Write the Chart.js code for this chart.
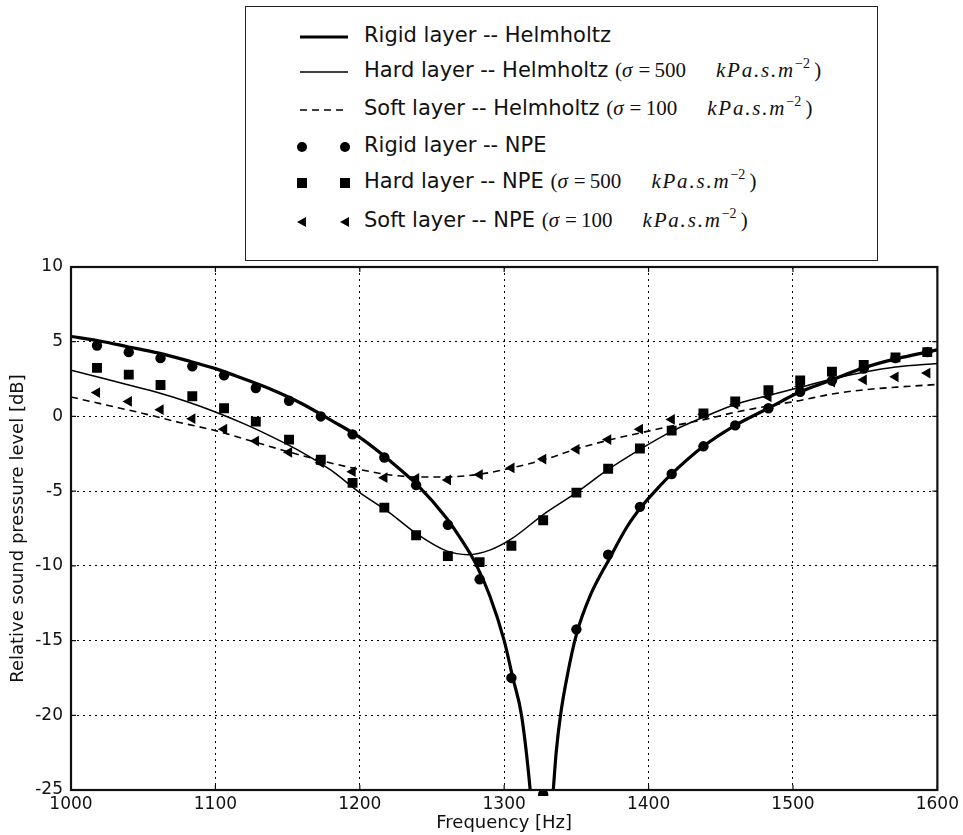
<!DOCTYPE html>
<html>
<head>
<meta charset="utf-8">
<script src="https://cdn.jsdelivr.net/npm/chart.js@4.4.1/dist/chart.umd.min.js"></script>
<style>
  body { margin: 0; background: #fff; }
  #wrap { position: relative; width: 963px; height: 835px; }
  #plot { position: absolute; left: 0; top: 0; }
  #legend {
    position: absolute; left: 245px; top: 6px; width: 633px; height: 255px;
    border: 1px solid #222; background: #fff; box-sizing: border-box;
    font-family: "DejaVu Sans", sans-serif; font-size: 21px; color: #111;
  }
  .row { position: absolute; left: 0; height: 30px; display: flex; align-items: center; white-space: nowrap; }
  .row svg { position: absolute; left: 50px; top: 0; }
  .lab { position: absolute; left: 118px; top: 1px; }
  .m { font-family: "Liberation Serif", "DejaVu Serif", serif; font-size: 21px; }
  .m i { letter-spacing: 1.8px; }
  .m sup { font-size: 14px; vertical-align: 9px; line-height: 0; font-style: normal; }
</style>
</head>
<body>
<div id="wrap">
  <canvas id="plot" width="963" height="835"></canvas>
  <div id="legend"></div>
</div>
<script>
// frequencies of the NPE points [Hz]
const freqNPE = [1018, 1040, 1062, 1084, 1106, 1128, 1151, 1173, 1195, 1217, 1239, 1261, 1283, 1305,
  1327, 1350, 1372, 1394, 1416, 1438, 1460, 1483, 1505, 1527, 1549, 1571, 1593];
const rigidNPE = [4.75, 4.3, 3.9, 3.35, 2.75, 1.9, 1.05, 0.0, -1.2, -2.75, -4.6, -7.25, -10.9, -17.5,
  -25.3, -14.25, -9.25, -6.05, -3.85, -2.0, -0.6, 0.55, 1.65, 2.4, 3.2, 3.9, 4.3];
const hardNPE = [3.25, 2.8, 2.1, 1.35, 0.55, -0.35, -1.55, -2.9, -4.45, -6.1, -7.95, -9.35, -9.75, -8.65,
  -6.95, -5.1, -3.5, -2.15, -0.95, 0.2, 1.0, 1.75, 2.4, 3.0, 3.45, 3.95, 4.3];
const softNPE = [1.6, 1.0, 0.45, -0.15, -0.85, -1.65, -2.4, -3.1, -3.7, -4.1, -4.15, -4.25, -3.9, -3.45,
  -2.85, -2.2, -1.55, -0.85, -0.2, 0.15, 0.8, 1.3, 2.0, 2.3, 2.45, 2.65, 2.9];

// Helmholtz curves
const freqRigidHelm = [1000, 1020, 1040, 1060, 1080, 1100, 1120, 1140, 1160, 1180, 1200, 1220, 1240, 1260,
  1270, 1280, 1290, 1300, 1306, 1312, 1318, 1322, 1326, 1330, 1334, 1336, 1339, 1344, 1350, 1360, 1373,
  1385, 1395, 1405, 1416, 1438, 1460, 1483, 1505, 1527, 1549, 1571, 1600];
const rigidHelm = [5.35, 5.05, 4.65, 4.25, 3.75, 3.2, 2.5, 1.75, 0.85, -0.25, -1.4, -2.9, -4.6, -6.8,
  -8.2, -9.8, -12.0, -15.0, -17.5, -20.0, -25.0, -30.0, -35.0, -30.0, -25.0, -22.5, -20.0, -17.2, -14.6, -11.9, -9.5,
  -7.4, -6.05, -4.95, -3.85, -2.0, -0.6, 0.55, 1.65, 2.45, 3.25, 3.85, 4.45];
const freqHardHelm = [1000, 1020, 1040, 1060, 1080, 1100, 1120, 1140, 1160, 1180, 1200, 1220, 1240, 1260,
  1275, 1290, 1305, 1328, 1350, 1372, 1395, 1416, 1438, 1460, 1483, 1505, 1527, 1549, 1571, 1600];
const hardHelm = [3.1, 2.6, 2.1, 1.6, 1.0, 0.3, -0.5, -1.4, -2.4, -3.6, -5.1, -6.4, -7.9, -9.0,
  -9.25, -8.95, -8.2, -6.5, -5.1, -3.55, -2.15, -1.0, -0.05, 0.8, 1.4, 1.95, 2.5, 2.95, 3.3, 3.55];
const freqSoftHelm = [1000, 1025, 1050, 1075, 1100, 1125, 1150, 1175, 1200, 1220, 1240, 1260, 1284, 1305,
  1329, 1351, 1374, 1399, 1416, 1439, 1461, 1483, 1505, 1527, 1549, 1572, 1600];
const softHelm = [1.3, 0.75, 0.2, -0.4, -0.95, -1.65, -2.35, -3.0, -3.55, -3.9, -4.05, -4.05, -3.85, -3.45,
  -2.85, -2.15, -1.55, -1.0, -0.65, -0.2, 0.3, 0.7, 1.07, 1.5, 1.78, 1.96, 2.14];

const xTicks = [1000, 1100, 1200, 1300, 1400, 1500, 1600];
const yTicks = [10, 5, 0, -5, -10, -15, -20, -25];

const legendLabels = [
  "Rigid layer -- Helmholtz",
  "Hard layer -- Helmholtz",
  "Soft layer -- Helmholtz",
  "Rigid layer -- NPE",
  "Hard layer -- NPE",
  "Soft layer -- NPE"
];
const legendSigma = [null, 500, 100, null, 500, 100];

function pts(xs, ys) {
  return xs.map((x, i) => ({ x: x, y: ys[i] }));
}

const lineBase = { pointRadius: 0, borderColor: "#000", backgroundColor: "#000", showLine: true,
  cubicInterpolationMode: "monotone", fill: false };
const markBase = { showLine: false, borderColor: "#000", backgroundColor: "#000", borderWidth: 0, clip: 6 };

const datasets = [
  Object.assign({ label: legendLabels[0], data: pts(freqRigidHelm, rigidHelm), borderWidth: 3.2 }, lineBase),
  Object.assign({ label: legendLabels[1], data: pts(freqHardHelm, hardHelm), borderWidth: 1.5 }, lineBase),
  Object.assign({ label: legendLabels[2], data: pts(freqSoftHelm, softHelm), borderWidth: 1.6, borderDash: [7, 5] }, lineBase),
  Object.assign({ label: legendLabels[3], data: pts(freqNPE, rigidNPE), pointStyle: "circle", pointRadius: 5.2 }, markBase),
  Object.assign({ label: legendLabels[4], data: pts(freqNPE, hardNPE), pointStyle: "rect", pointRadius: 7 }, markBase),
  Object.assign({ label: legendLabels[5], data: pts(freqNPE, softNPE), pointStyle: "triangle", pointRadius: 6.2, rotation: -90 }, markBase)
];

// frame round the plot plus inward ticks like matplotlib
const framePlugin = {
  id: "frame",
  afterDatasetsDraw(chart) {
    const { ctx, chartArea: a, scales } = chart;
    ctx.save();
    ctx.strokeStyle = "#111";
    ctx.lineWidth = 1.2;
    ctx.setLineDash([]);
    ctx.beginPath();
    xTicks.forEach(v => {
      const px = scales.x.getPixelForValue(v);
      ctx.moveTo(px, a.bottom); ctx.lineTo(px, a.bottom - 5);
      ctx.moveTo(px, a.top); ctx.lineTo(px, a.top + 5);
    });
    yTicks.forEach(v => {
      const py = scales.y.getPixelForValue(v);
      ctx.moveTo(a.left, py); ctx.lineTo(a.left + 5, py);
      ctx.moveTo(a.right, py); ctx.lineTo(a.right - 5, py);
    });
    ctx.stroke();
    ctx.lineWidth = 2.2;
    ctx.strokeRect(a.left, a.top, a.right - a.left, a.bottom - a.top);
    ctx.restore();
  }
};

const gridOpts = { color: "#000", lineWidth: 1, drawTicks: false, tickLength: 0 };
const tickFont = { family: "DejaVu Sans", size: 17 };
const titleFont = { family: "DejaVu Sans", size: 18 };

new Chart(document.getElementById("plot").getContext("2d"), {
  type: "scatter",
  data: { datasets: datasets },
  options: {
    responsive: false,
    animation: false,
    layout: { padding: { left: 0, top: 267, right: 23, bottom: 0 } },
    plugins: { legend: { display: false }, tooltip: { enabled: false } },
    scales: {
      x: {
        type: "linear", min: 1000, max: 1600,
        afterBuildTicks: s => { s.ticks = xTicks.map(v => ({ value: v })); },
        afterFit: s => { s.height = 45; },
        grid: gridOpts,
        border: { display: false, dash: [2, 4] },
        ticks: { color: "#111", font: tickFont, padding: 4, maxRotation: 0, callback: v => String(v) },
        title: { display: true, text: "Frequency [Hz]", color: "#111", font: titleFont, padding: { top: 0, bottom: 1 } }
      },
      y: {
        type: "linear", min: -25, max: 10,
        afterBuildTicks: s => { s.ticks = yTicks.map(v => ({ value: v })); },
        afterFit: s => { s.width = 71; },
        grid: gridOpts,
        border: { display: false, dash: [2, 4] },
        ticks: { color: "#111", font: tickFont, padding: 8, callback: v => String(v) },
        title: { display: true, text: "Relative sound pressure level [dB]", color: "#111", font: titleFont, padding: { top: 8, bottom: 0 } }
      }
    }
  },
  plugins: [framePlugin]
});

// legend box drawn as html
const rowCenters = [30, 65, 103, 140, 176, 215];
const legend = document.getElementById("legend");
function sample(i) {
  const d = datasets[i];
  let s = '<svg width="60" height="30" viewBox="0 0 60 30">';
  if (i < 3) {
    const dash = d.borderDash ? ' stroke-dasharray="' + d.borderDash.join(",") + '"' : "";
    s += '<line x1="4" y1="15" x2="52" y2="15" stroke="#000" stroke-width="' + d.borderWidth + '"' + dash + '/>';
  } else {
    [6, 49].forEach(cx => {
      if (d.pointStyle === "circle") s += '<circle cx="' + cx + '" cy="15" r="5" fill="#000"/>';
      else if (d.pointStyle === "rect") s += '<rect x="' + (cx - 5) + '" y="10" width="10" height="10" fill="#000"/>';
      else s += '<polygon points="' + (cx - 5) + ',15 ' + (cx + 4) + ',10 ' + (cx + 4) + ',20" fill="#000"/>';
    });
  }
  return s + "</svg>";
}
legendLabels.forEach((lab, i) => {
  const row = document.createElement("div");
  row.className = "row";
  row.style.top = (rowCenters[i] - 15) + "px";
  let html = sample(i) + '<span class="lab">' + lab;
  if (legendSigma[i]) {
    html += ' <span class="m">(<i>σ</i>\u2009=\u2009' + legendSigma[i] +
      '<span style="display:inline-block;width:30px"></span><i>kPa.s.m</i><sup>−2</sup>\u2009)</span>';
  }
  row.innerHTML = html + "</span>";
  legend.appendChild(row);
});
</script>
</body>
</html>
